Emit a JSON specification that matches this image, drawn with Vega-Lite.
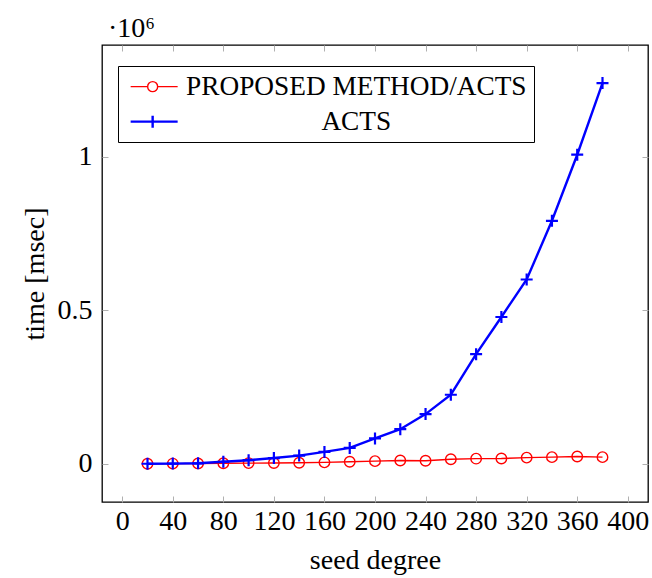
{
  "$schema": "https://vega.github.io/schema/vega-lite/v6.json",
  "width": 546,
  "height": 457,
  "autosize": "none",
  "padding": {"left": 102, "top": 45, "right": 4, "bottom": 76},
  "background": "white",
  "config": {
    "font": "Liberation Serif",
    "view": {"stroke": "black", "strokeWidth": 1.3},
    "axis": {
      "domain": false,
      "grid": false,
      "tickColor": "#b0b0b0",
      "tickSize": -6,
      "tickWidth": 1,
      "labelFont": "Liberation Serif",
      "labelFontSize": 28,
      "labelColor": "black",
      "titleFont": "Liberation Serif",
      "titleFontSize": 28,
      "titleFontWeight": "normal",
      "titleColor": "black"
    }
  },
  "title": {
    "text": "·10⁶",
    "anchor": "start",
    "frame": "group",
    "dx": 6,
    "dy": 32,
    "offset": 6,
    "baseline": "bottom",
    "fontSize": 28,
    "fontWeight": "normal",
    "font": "Liberation Serif",
    "color": "black"
  },
  "data": {
    "values": [
      {"x": 20, "series": "PROPOSED METHOD/ACTS", "t": 500},
      {"x": 40, "series": "PROPOSED METHOD/ACTS", "t": 1000},
      {"x": 60, "series": "PROPOSED METHOD/ACTS", "t": 1500},
      {"x": 80, "series": "PROPOSED METHOD/ACTS", "t": 2200},
      {"x": 100, "series": "PROPOSED METHOD/ACTS", "t": 2500},
      {"x": 120, "series": "PROPOSED METHOD/ACTS", "t": 3000},
      {"x": 140, "series": "PROPOSED METHOD/ACTS", "t": 3500},
      {"x": 160, "series": "PROPOSED METHOD/ACTS", "t": 5000},
      {"x": 180, "series": "PROPOSED METHOD/ACTS", "t": 7000},
      {"x": 200, "series": "PROPOSED METHOD/ACTS", "t": 9000},
      {"x": 220, "series": "PROPOSED METHOD/ACTS", "t": 11000},
      {"x": 240, "series": "PROPOSED METHOD/ACTS", "t": 10000},
      {"x": 260, "series": "PROPOSED METHOD/ACTS", "t": 15000},
      {"x": 280, "series": "PROPOSED METHOD/ACTS", "t": 17000},
      {"x": 300, "series": "PROPOSED METHOD/ACTS", "t": 17500},
      {"x": 320, "series": "PROPOSED METHOD/ACTS", "t": 20500},
      {"x": 340, "series": "PROPOSED METHOD/ACTS", "t": 22000},
      {"x": 360, "series": "PROPOSED METHOD/ACTS", "t": 24000},
      {"x": 380, "series": "PROPOSED METHOD/ACTS", "t": 22000},
      {"x": 20, "series": "ACTS", "t": 500},
      {"x": 40, "series": "ACTS", "t": 1000},
      {"x": 60, "series": "ACTS", "t": 2000},
      {"x": 80, "series": "ACTS", "t": 7000},
      {"x": 100, "series": "ACTS", "t": 12000},
      {"x": 120, "series": "ACTS", "t": 19000},
      {"x": 140, "series": "ACTS", "t": 27000},
      {"x": 160, "series": "ACTS", "t": 39000},
      {"x": 180, "series": "ACTS", "t": 52000},
      {"x": 200, "series": "ACTS", "t": 83000},
      {"x": 220, "series": "ACTS", "t": 113000},
      {"x": 240, "series": "ACTS", "t": 162000},
      {"x": 260, "series": "ACTS", "t": 225000},
      {"x": 280, "series": "ACTS", "t": 357000},
      {"x": 300, "series": "ACTS", "t": 478000},
      {"x": 320, "series": "ACTS", "t": 600000},
      {"x": 340, "series": "ACTS", "t": 791000},
      {"x": 360, "series": "ACTS", "t": 1006000},
      {"x": 380, "series": "ACTS", "t": 1239000}
    ]
  },
  "resolve": {"axis": {"x": "independent", "y": "independent"}},
  "layer": [
    {
      "transform": [{"filter": "datum.series === 'PROPOSED METHOD/ACTS'"}],
      "mark": {"type": "line", "color": "#ff0000", "strokeWidth": 1.4},
      "encoding": {
        "x": {
          "field": "x", "type": "quantitative",
          "scale": {"domain": [-16, 416], "nice": false, "zero": false},
          "axis": {"orient": "bottom", "values": [0, 40, 80, 120, 160, 200, 240, 280, 320, 360, 400], "title": "seed degree", "labelPadding": 11, "titlePadding": 11}
        },
        "y": {
          "field": "t", "type": "quantitative",
          "scale": {"domain": [-124000, 1363000], "nice": false, "zero": false},
          "axis": {"orient": "left", "values": [0, 500000, 1000000], "labelExpr": "format(datum.value/1000000, '~g')", "title": "time [msec]", "labelPadding": 16, "titlePadding": 8}
        }
      }
    },
    {
      "transform": [{"filter": "datum.series === 'PROPOSED METHOD/ACTS'"}],
      "mark": {"type": "point", "shape": "circle", "filled": false, "color": "#ff0000", "size": 110, "strokeWidth": 1.4, "opacity": 1},
      "encoding": {
        "x": {"field": "x", "type": "quantitative", "axis": {"orient": "top", "values": [0, 40, 80, 120, 160, 200, 240, 280, 320, 360, 400], "labels": false, "title": null}},
        "y": {"field": "t", "type": "quantitative", "axis": {"orient": "right", "values": [0, 500000, 1000000], "labels": false, "title": null}}
      }
    },
    {
      "transform": [{"filter": "datum.series === 'ACTS'"}],
      "mark": {"type": "line", "color": "#0000ff", "strokeWidth": 2.4},
      "encoding": {
        "x": {"field": "x", "type": "quantitative", "axis": null},
        "y": {"field": "t", "type": "quantitative", "axis": null}
      }
    },
    {
      "transform": [{"filter": "datum.series === 'ACTS'"}],
      "mark": {"type": "point", "shape": "M-1,0H1M0,-1V1", "filled": false, "color": "#0000ff", "size": 144, "strokeWidth": 2.2, "opacity": 1},
      "encoding": {
        "x": {"field": "x", "type": "quantitative", "axis": null},
        "y": {"field": "t", "type": "quantitative", "axis": null}
      }
    },
    {
      "transform": [{"filter": "datum.x < 0"}],
      "mark": {"type": "point", "filled": false, "opacity": 1},
      "encoding": {
        "x": {"field": "x", "type": "quantitative", "axis": null},
        "y": {"field": "t", "type": "quantitative", "axis": null},
        "shape": {
          "field": "series", "type": "nominal",
          "scale": {"domain": ["PROPOSED METHOD/ACTS", "ACTS"], "range": ["M-0.8,0H0.9M1.9,0H3.9M0.9,0A0.5,0.5 0 1,0 1.9,0A0.5,0.5 0 1,0 0.9,0", "M-0.8,0H3.9M1.4,-0.6V0.6"]},
          "legend": {"orient": "none", "legendX": 16, "legendY": 21, "title": null, "strokeColor": "black", "fillColor": "white", "padding": 7, "labelFontSize": 27.3, "labelFont": "Liberation Serif", "labelColor": "black", "labelAlign": "center", "labelOffset": 204, "labelLimit": 0, "symbolSize": 400, "rowPadding": 7, "symbolOpacity": 1}
        },
        "stroke": {
          "field": "series", "type": "nominal",
          "scale": {"domain": ["PROPOSED METHOD/ACTS", "ACTS"], "range": ["#ff0000", "#0000ff"]},
          "legend": {"orient": "none", "legendX": 16, "legendY": 21, "title": null, "strokeColor": "black", "fillColor": "white", "padding": 7, "labelFontSize": 27.3, "labelFont": "Liberation Serif", "labelColor": "black", "labelAlign": "center", "labelOffset": 204, "labelLimit": 0, "symbolSize": 400, "rowPadding": 7, "symbolOpacity": 1}
        },
        "strokeWidth": {
          "field": "series", "type": "nominal",
          "scale": {"domain": ["PROPOSED METHOD/ACTS", "ACTS"], "range": [1.4, 2.4]},
          "legend": {"orient": "none", "legendX": 16, "legendY": 21, "title": null, "strokeColor": "black", "fillColor": "white", "padding": 7, "labelFontSize": 27.3, "labelFont": "Liberation Serif", "labelColor": "black", "labelAlign": "center", "labelOffset": 204, "labelLimit": 0, "symbolSize": 400, "rowPadding": 7, "symbolOpacity": 1}
        }
      }
    }
  ]
}
